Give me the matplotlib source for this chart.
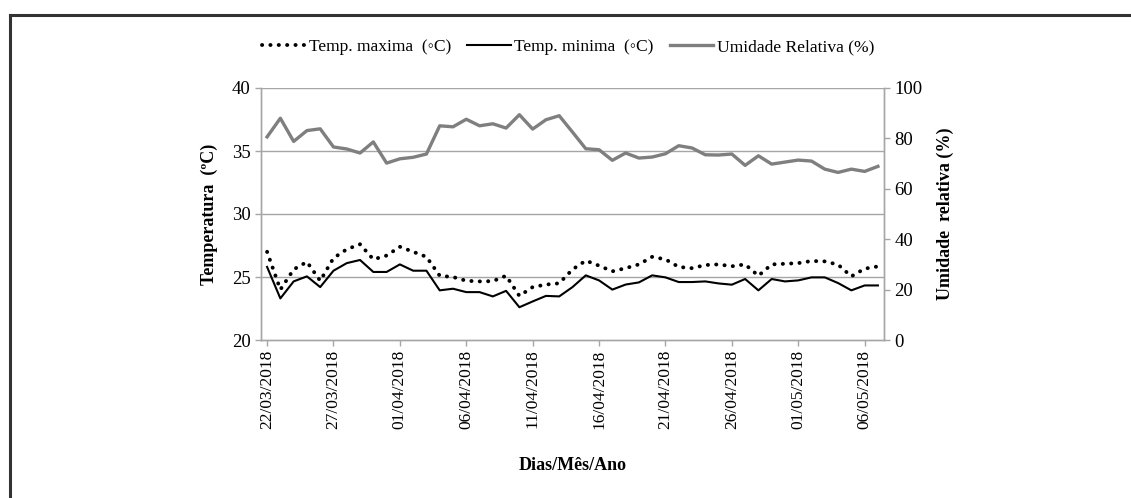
import matplotlib
matplotlib.use("Agg")
import matplotlib.pyplot as plt
import matplotlib.dates as mdates
from matplotlib.lines import Line2D
import pandas as pd

# ---- data ----
dates = pd.date_range("2018-03-22", "2018-05-07", freq="D")
tick_dates = pd.date_range("2018-03-22", "2018-05-06", freq="5D")

temp_max = [27.0, 24.0, 25.6, 26.2, 24.7, 26.5, 27.2, 27.6, 26.4, 26.7,
            27.4, 27.0, 26.6, 25.1, 25.0, 24.7, 24.65, 24.67, 25.1, 23.5,
            24.2, 24.4, 24.5, 25.6, 26.3, 25.9, 25.45, 25.7, 26.0, 26.6,
            26.4, 25.8, 25.7, 25.95, 26.0, 25.85, 26.0, 25.1, 26.0, 26.05,
            26.1, 26.27, 26.24, 25.98, 25.05, 25.66, 25.84]
temp_min = [25.8, 23.3, 24.65, 25.05, 24.2, 25.5, 26.1, 26.35, 25.4, 25.4,
            26.0, 25.5, 25.5, 23.94, 24.07, 23.8, 23.8, 23.46, 23.9, 22.6,
            23.06, 23.5, 23.46, 24.2, 25.13, 24.73, 24.0, 24.4, 24.57, 25.13,
            24.97, 24.6, 24.6, 24.65, 24.49, 24.39, 24.84, 23.94, 24.84, 24.65,
            24.73, 24.97, 24.97, 24.52, 23.94, 24.33, 24.33]
humidity = [80.6, 88.0, 78.8, 83.1, 83.8, 76.6, 75.8, 74.2, 78.6, 70.2,
            71.9, 72.5, 73.8, 85.0, 84.6, 87.6, 85.0, 85.8, 84.1, 89.4,
            83.7, 87.4, 89.0, 82.5, 75.9, 75.5, 71.3, 74.2, 72.2, 72.6,
            73.9, 77.1, 76.2, 73.5, 73.4, 73.8, 69.3, 73.1, 69.8, 70.6,
            71.4, 71.0, 67.8, 66.5, 67.8, 66.9, 68.9]

labels = ["Temp. maxima  (\u25e6C)", "Temp. minima  (\u25e6C)", "Umidade Relativa (%)"]

plt.rcParams['font.family'] = ['Liberation Serif', 'DejaVu Serif']

W, H = 1131, 498
fig = plt.figure(figsize=(W / 100, H / 100), dpi=100)

# outer border (top and left edges visible)
fig.add_artist(Line2D([10 / W, 10 / W], [0, 1 - 15 / H], transform=fig.transFigure,
                      color="#333333", lw=2.2, solid_capstyle="projecting"))
fig.add_artist(Line2D([10 / W, 1], [1 - 15 / H, 1 - 15 / H], transform=fig.transFigure,
                      color="#333333", lw=2.2, solid_capstyle="projecting"))

left, right, top, bottom = 261 / W, 884 / W, 88 / H, 340 / H
ax = fig.add_axes([left, 1 - bottom, right - left, bottom - top])
ax2 = ax.twinx()

grid_c = "#a6a6a6"
ax.set_ylim(20, 40)
ax.set_yticks([20, 25, 30, 35, 40])
ax2.set_ylim(0, 100)
ax2.set_yticks([0, 20, 40, 60, 80, 100])
for y in [25, 30, 35, 40]:
    ax.axhline(y, color=grid_c, lw=1.0, zorder=0)

half = pd.Timedelta(hours=11)
ax.set_xlim(dates[0] - half, dates[-1] + half)

ln_max, = ax.plot(dates, temp_max, color="black", lw=2.8,
                  linestyle=(0, (0.05, 2.1)), dash_capstyle="round", zorder=3)
ln_min, = ax.plot(dates, temp_min, color="black", lw=1.5, zorder=3)
ln_hum, = ax2.plot(dates, humidity, color="#7f7f7f", lw=2.4, zorder=3)

ax.set_xticks(tick_dates)
ax.xaxis.set_major_formatter(mdates.DateFormatter("%d/%m/%Y"))
for lab in ax.get_xticklabels():
    lab.set_rotation(90)

for a in (ax, ax2):
    for s in a.spines.values():
        s.set_color(grid_c)
        s.set_linewidth(1.0)
    a.spines["top"].set_visible(False)
    a.tick_params(colors=grid_c, labelcolor="black", labelsize=13.5, length=4, width=1)
ax.tick_params(axis="x", labelsize=12.5, pad=3)

ax.set_ylabel("Temperatura  (\u00baC)", fontsize=13, fontweight="bold", labelpad=10)
ax2.set_ylabel("Umidade  relativa (%)", fontsize=13, fontweight="bold", labelpad=10)
ax.set_xlabel("Dias/M\u00eas/Ano", fontsize=13, fontweight="bold", labelpad=20)

fig.legend([ln_max, ln_min, ln_hum], labels, loc="center", ncol=3,
           bbox_to_anchor=(568 / W, 1 - 47 / H), frameon=False, fontsize=12.6,
           handlelength=2.5, handletextpad=0.2, columnspacing=0.9)

fig.savefig("out.png", dpi=100)
